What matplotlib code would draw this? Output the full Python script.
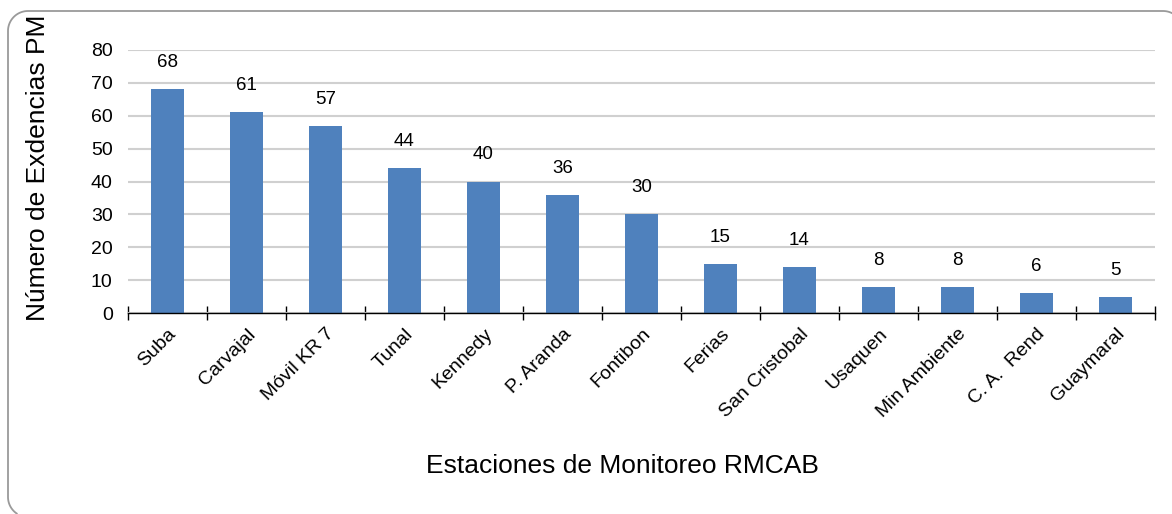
import numpy as np
import matplotlib.pyplot as plt

plt.rcParams['font.family'] = ['Liberation Sans', 'DejaVu Sans']

# exceedance counts per monitoring station
estaciones = ['Suba', 'Carvajal', 'Móvil KR 7', 'Tunal', 'Kennedy', 'P. Aranda',
              'Fontibon', 'Ferias', 'San Cristobal', 'Usaquen', 'Min Ambiente',
              'C. A.  Rend', 'Guaymaral']
excedencias = [68, 61, 57, 44, 40, 36, 30, 15, 14, 8, 8, 6, 5]

W, H = 1172, 514
fig = plt.figure(figsize=(W / 100, H / 100), dpi=100)

# rounded chart-area frame in pixel units; it runs off the right and bottom edges
bg = fig.add_axes([0, 0, 1, 1], zorder=-1)
bg.set_xlim(0, W)
bg.set_ylim(H, 0)
bg.axis('off')
r = 20
left, top = 8, 11
t = np.linspace(0, np.pi / 2, 30)
bl = np.linspace(np.arcsin(17 / r), 0, 20)
tr = np.linspace(0, np.arcsin((W - (W - 9)) / r) + 0.5, 20)
fx = np.concatenate([left + r - r * np.cos(bl),
                     left + r - r * np.cos(t),
                     (W - 9) + r * np.sin(tr)])
fy = np.concatenate([(H - 17) + r * np.sin(bl),
                     top + r - r * np.sin(t),
                     top + r - r * np.cos(tr)])
bg.plot(fx, fy, color='#9a9a9a', linewidth=1.3, solid_capstyle='butt')

ax = fig.add_axes([128 / W, 1 - 313 / H, (1155 - 128) / W, 263 / H])
ax.patch.set_alpha(0)
x = np.arange(len(estaciones))
bars = ax.bar(x, excedencias, width=0.41, color='#4f81bd', zorder=3)

for xi, v in zip(x, excedencias):
    ax.annotate(str(v), (xi, v), xytext=(0, 13), textcoords='offset points',
                ha='center', va='bottom', fontsize=13.5)

ax.set_xlim(-0.5, len(estaciones) - 0.5)
ax.set_ylim(0, 80)
ax.set_yticks(range(0, 81, 10))
ax.yaxis.grid(True, color='#d0d0d0', linewidth=1.5, zorder=0)
ax.set_axisbelow(True)

for s in ['top', 'right', 'left']:
    ax.spines[s].set_visible(False)
ax.spines['bottom'].set_color('black')
ax.spines['bottom'].set_linewidth(1.0)
ax.spines['bottom'].set_zorder(4)

ax.tick_params(axis='y', length=0, labelsize=14, pad=11)
# x ticks sit on the category boundaries and cross the axis
ax.set_xticks(np.arange(len(estaciones) + 1) - 0.5)
ax.set_xticklabels([])
ax.tick_params(axis='x', which='major', direction='inout', length=10, width=1)
ax.set_xticks(x, minor=True)
ax.set_xticklabels(estaciones, minor=True, rotation=45, ha='right',
                   rotation_mode='anchor', fontsize=14)
ax.tick_params(axis='x', which='minor', length=0, pad=9)

ax.set_xlabel('Estaciones de Monitoreo RMCAB', fontsize=19)
ax.xaxis.set_label_coords((622 - 128) / (1155 - 128), -(466 - 313) / 263)
ax.set_ylabel('Número de Exdencias PM', fontsize=19)
ax.yaxis.set_label_coords(-(128 - 38) / (1155 - 128), (313 - 168) / 263)
ax.xaxis.label.set_va('center')
ax.yaxis.label.set_va('center')

fig.savefig('out.png', dpi=100, facecolor='white')
